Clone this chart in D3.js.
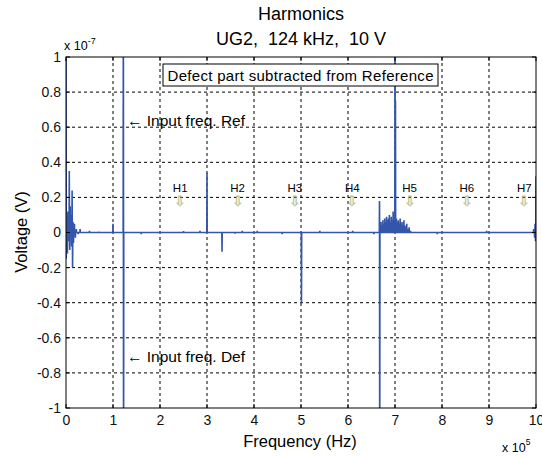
<!DOCTYPE html>
<html><head><meta charset="utf-8">
<script src="https://cdn.jsdelivr.net/npm/d3@7"></script>
<style>body{margin:0;background:#fff}svg{display:block}text{font-family:"Liberation Sans",Arial,sans-serif}</style>
</head><body><svg id="c" width="542" height="457"></svg>
<script>
// Spectrum spikes: frequency in units of 1e5 Hz, voltage in units of 1e-7 V (baseline 0 between spikes)
const spikeFreqs = [0, 0.005, 0.02, 0.03, 0.04, 0.05, 0.07, 0.08, 0.09, 0.11, 0.12, 0.13, 0.14, 0.15, 0.16, 0.18, 0.2, 0.22, 0.26, 0.3, 0.5, 0.7,
  1.0, 1.22, 1.225, 1.6, 2.5, 2.85, 3.0, 3.32, 3.6, 3.75, 4.07, 4.6, 5.01, 5.4, 6.1, 6.55, 6.67, 6.675,
  6.68, 6.70, 6.72, 6.74, 6.76, 6.78, 6.80, 6.82, 6.84, 6.86, 6.88, 6.90, 6.92, 6.94, 6.96, 6.98, 7.0, 7.01,
  7.03, 7.05, 7.07, 7.09, 7.11, 7.13, 7.15, 7.17, 7.19, 7.21, 7.23, 7.25, 7.27, 7.30, 7.33,
  7.9, 8.95, 9.95, 9.97, 9.98, 9.99, 10];
const spikeVolts = [1.5, -0.15, 0.1, -0.12, 0.12, -0.05, 0.35, -0.1, 0.15, 0.1, -0.08, 0.24, -0.2, 0.06, -0.06, 0.05, -0.03, 0.02, -0.01, 0.02, 0.01, 0.005,
  0.05, 1.5, -1.5, -0.01, 0.008, 0.01, 0.34, -0.11, -0.006, 0.01, 0.01, -0.01, -0.4, 0.01, 0.01, -0.01, 0.18, -1.5,
  0.03, 0.06, 0.04, 0.07, 0.05, 0.08, 0.06, 0.09, 0.07, 0.08, 0.10, 0.06, 0.09, 0.07, 0.12, 0.08, 1.5, 0.75,
  0.08, 0.06, 0.07, 0.05, 0.08, 0.05, 0.06, 0.04, 0.07, 0.04, 0.03, 0.05, 0.02, 0.03, 0.01,
  -0.01, 0.01, 0.02, -0.03, 0.05, -0.05, 0.32];
const xTicks = [0,1,2,3,4,5,6,7,8,9,10];
const xTickLabels = ["0","1","2","3","4","5","6","7","8","9","10"];
const yTicks = [1,0.8,0.6,0.4,0.2,0,-0.2,-0.4,-0.6,-0.8,-1];
const yTickLabels = ["1","0.8","0.6","0.4","0.2","0","-0.2","-0.4","-0.6","-0.8","-1"];
const hLabels = ["H1","H2","H3","H4","H5","H6","H7"];
const hFreqs = [2.43,3.65,4.87,6.09,7.31,8.53,9.75];

const svg = d3.select("#c");
const L=66, R=536, T=57, B=408;
const x = d3.scaleLinear().domain([0,10]).range([L,R]);
const y = d3.scaleLinear().domain([-1,1]).range([B,T]);

// grid
const g = svg.append("g");
xTicks.slice(1,-1).forEach(t=>g.append("line").attr("x1",x(t)).attr("x2",x(t)).attr("y1",T).attr("y2",B)
  .attr("stroke","#000").attr("stroke-width",1).attr("stroke-dasharray","3,3"));
yTicks.slice(1,-1).forEach(t=>g.append("line").attr("x1",L).attr("x2",R).attr("y1",y(t)).attr("y2",y(t))
  .attr("stroke","#000").attr("stroke-width",1).attr("stroke-dasharray","3,3"));

// data line: each spike rises from and returns to the zero baseline
const dlt = 0.004;
const pts = [];
spikeFreqs.forEach((f,i)=>{ pts.push([f-dlt,0]); pts.push([f,spikeVolts[i]]); pts.push([f+dlt,0]); });
svg.append("clipPath").attr("id","clip").append("rect").attr("x",L).attr("y",T).attr("width",R-L).attr("height",B-T);
svg.append("path").attr("clip-path","url(#clip)").attr("d",d3.line().x(d=>x(d[0])).y(d=>y(d[1]))(pts))
  .attr("fill","none").attr("stroke","#3355aa").attr("stroke-width",1.6);

// frame
svg.append("rect").attr("x",L).attr("y",T).attr("width",R-L).attr("height",B-T).attr("fill","none").attr("stroke","#000").attr("stroke-width",1);

// axes
const xa = svg.append("g").attr("transform",`translate(0,${B})`)
  .call(d3.axisBottom(x).tickValues(xTicks).tickFormat((d,i)=>xTickLabels[i]).tickSize(0).tickPadding(7));
xa.select(".domain").remove();
xa.selectAll("text").attr("font-size",14).attr("font-family","Liberation Sans, Arial").attr("fill","#111");
const ya = svg.append("g").attr("transform",`translate(${L},0)`)
  .call(d3.axisLeft(y).tickValues(yTicks).tickFormat((d,i)=>yTickLabels[i]).tickSize(0).tickPadding(5));
ya.select(".domain").remove();
ya.selectAll("text").attr("font-size",14).attr("font-family","Liberation Sans, Arial").attr("fill","#111");
xTicks.forEach(t=>{svg.append("line").attr("x1",x(t)).attr("x2",x(t)).attr("y1",B).attr("y2",B-4).attr("stroke","#000");
  svg.append("line").attr("x1",x(t)).attr("x2",x(t)).attr("y1",T).attr("y2",T+4).attr("stroke","#000");});
yTicks.forEach(t=>{svg.append("line").attr("x1",L).attr("x2",L+4).attr("y1",y(t)).attr("y2",y(t)).attr("stroke","#000");
  svg.append("line").attr("x1",R).attr("x2",R-4).attr("y1",y(t)).attr("y2",y(t)).attr("stroke","#000");});

// titles
svg.append("text").attr("x",301).attr("y",20).attr("text-anchor","middle").attr("font-size",18).text("Harmonics");
svg.append("text").attr("x",301).attr("y",45).attr("text-anchor","middle").attr("font-size",18).attr("xml:space","preserve").text("UG2,  124 kHz,  10 V");
svg.append("text").attr("x",300).attr("y",447).attr("text-anchor","middle").attr("font-size",16.5).text("Frequency (Hz)");
svg.append("text").attr("transform","translate(27,232) rotate(-90)").attr("text-anchor","middle").attr("font-size",16.5).text("Voltage (V)");
const e1 = svg.append("text").attr("x",64).attr("y",50).attr("font-size",12.5);
e1.append("tspan").text("x 10");
e1.append("tspan").attr("dy",-6).attr("font-size",9).text("-7");
const e2 = svg.append("text").attr("x",502).attr("y",452).attr("font-size",12.5);
e2.append("tspan").text("x 10");
e2.append("tspan").attr("dy",-7).attr("font-size",8.5).text("5");

// legend box
svg.append("rect").attr("x",163).attr("y",64).attr("width",275).attr("height",22).attr("fill","#fff").attr("stroke","#000").attr("stroke-width",1);
svg.append("text").attr("x",300.5).attr("y",80.5).attr("text-anchor","middle").attr("font-size",15).attr("textLength",266).text("Defect part subtracted from Reference");

// annotations
svg.append("text").attr("x",127).attr("y",126).attr("font-size",15.5).text("\u2190 Input freq. Ref");
svg.append("text").attr("x",127).attr("y",362).attr("font-size",15.5).text("\u2190 Input freq. Def");

hLabels.forEach((h,i)=>{
  svg.append("text").attr("x",x(hFreqs[i])).attr("y",192).attr("text-anchor","middle").attr("font-size",11.5).text(h);
  svg.append("text").attr("x",x(hFreqs[i])).attr("y",206).attr("text-anchor","middle").attr("font-size",14)
    .attr("fill","#d8d68a").attr("stroke","#9aa890").attr("stroke-width",0.3).text("\u21e9");
});
</script></body></html>
